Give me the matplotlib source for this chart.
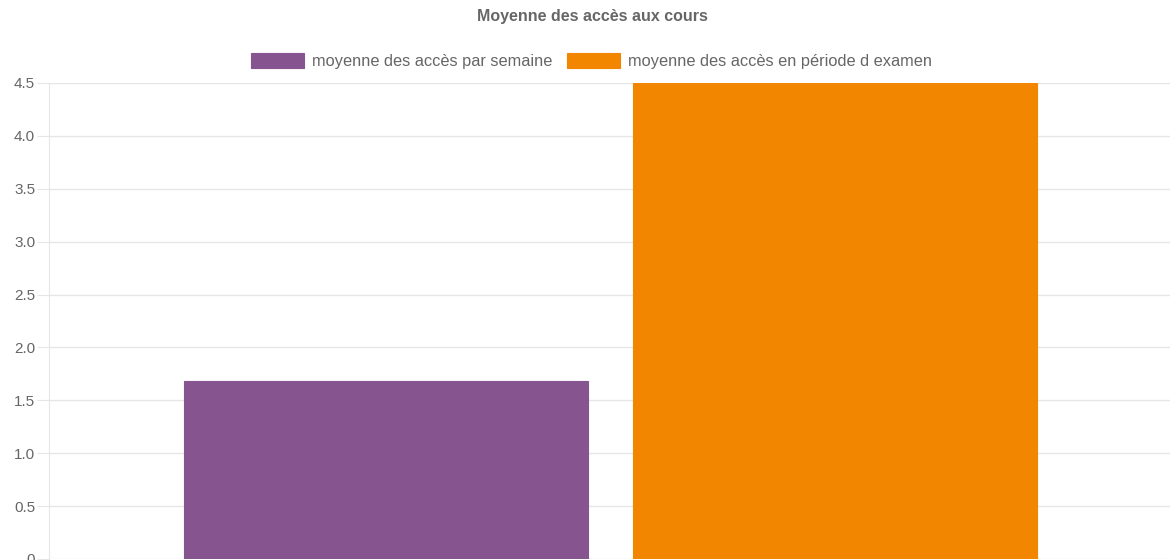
import matplotlib
matplotlib.use("Agg")
import matplotlib.pyplot as plt
from matplotlib.ticker import FixedLocator, FixedFormatter

plt.rcParams['font.family'] = ['Liberation Sans', 'DejaVu Sans']

title = "Moyenne des accès aux cours"
series_labels = ["moyenne des accès par semaine", "moyenne des accès en période d examen"]
series_values = [1.68, 4.5]
series_colors = ["#86548f", "#f38600"]
y_ticks = [0, 0.5, 1.0, 1.5, 2.0, 2.5, 3.0, 3.5, 4.0, 4.5]
y_tick_labels = ["0", "0.5", "1.0", "1.5", "2.0", "2.5", "3.0", "3.5", "4.0", "4.5"]

W, H = 1170, 560
fig = plt.figure(figsize=(W / 100, H / 100), dpi=100)
left, right, top, bottom = 49, 1172, 83, 559
ax = fig.add_axes([left / W, 1 - bottom / H, (right - left) / W, (bottom - top) / H])

n = len(series_values)
cat_w = 0.8
bar_w = cat_w / n * 0.9
handles = []
for i, (v, c, lab) in enumerate(zip(series_values, series_colors, series_labels)):
    x = -cat_w / 2 + cat_w / n * (i + 0.5)
    b = ax.bar(x, v, width=bar_w, color=c, edgecolor=c, linewidth=0.8, label=lab, zorder=2)
    handles.append(b)

ax.set_xlim(-0.5, 0.5)
ax.set_ylim(0, 4.5)
ax.yaxis.set_major_locator(FixedLocator(y_ticks))
ax.yaxis.set_major_formatter(FixedFormatter(y_tick_labels))
ax.set_xticks([])
grid_c = "#e6e6e6"
ax.grid(axis='y', color=grid_c, linewidth=1, zorder=0)
ax.set_axisbelow(True)
for s in ['top', 'right', 'bottom']:
    ax.spines[s].set_visible(False)
ax.spines['left'].set_color(grid_c)
ax.tick_params(axis='y', length=8.5, color=grid_c, pad=1.5, labelsize=11, labelcolor="#666666")
for lbl in ax.get_yticklabels():
    lbl.set_clip_on(False)

fig.text(592 / W, 1 - 17 / H, title, ha='center', va='center', fontsize=11.5,
         fontweight='bold', color="#666666")

fig.legend(handles=handles, labels=series_labels, loc='center', bbox_to_anchor=(591.5 / W, 1 - 61 / H),
           ncol=2, frameon=False, fontsize=11.8, labelcolor="#666666",
           handlelength=3.25, handleheight=1.0, handletextpad=0.5, columnspacing=0.85,
           borderpad=0, borderaxespad=0)

fig.savefig("out.png", dpi=100)
